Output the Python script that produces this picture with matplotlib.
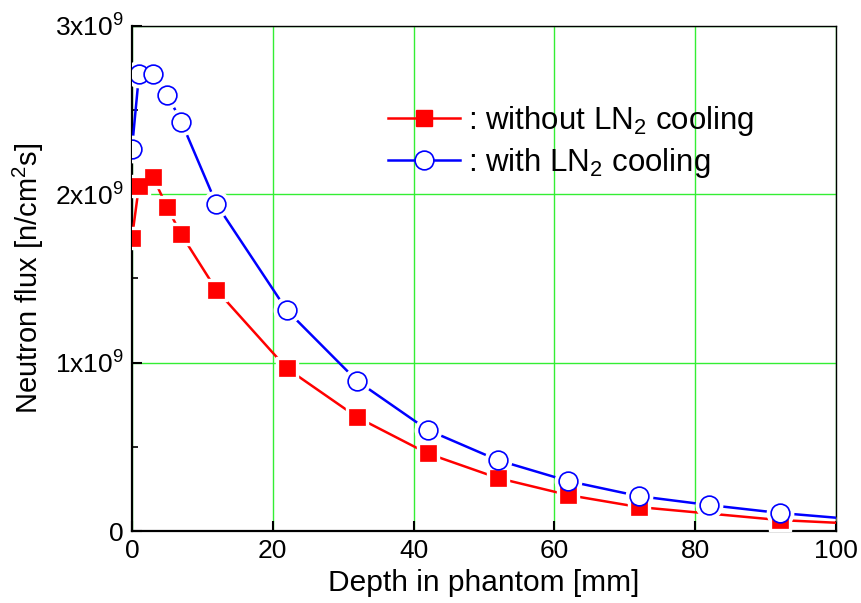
import matplotlib
matplotlib.use("Agg")
import matplotlib.pyplot as plt
from matplotlib.lines import Line2D
from matplotlib.ticker import FixedLocator, MultipleLocator

plt.rcParams['font.family'] = ['Liberation Sans', 'DejaVu Sans']
plt.rcParams['mathtext.fontset'] = 'custom'
plt.rcParams['mathtext.rm'] = 'Liberation Sans'
plt.rcParams['mathtext.it'] = 'Liberation Sans'

# depth [mm]
depth_without = [0, 1, 3, 5, 7, 12, 22, 32, 42, 52, 62, 72, 92, 102]
flux_without = [1.74e9, 2.05e9, 2.10e9, 1.92e9, 1.76e9, 1.43e9, 0.965e9, 0.675e9,
                0.46e9, 0.314e9, 0.213e9, 0.142e9, 0.065e9, 0.045e9]
depth_with = [0, 1, 3, 5, 7, 12, 22, 32, 42, 52, 62, 72, 82, 92, 102]
flux_with = [2.27e9, 2.71e9, 2.71e9, 2.59e9, 2.43e9, 1.94e9, 1.31e9, 0.89e9,
             0.60e9, 0.42e9, 0.296e9, 0.207e9, 0.154e9, 0.107e9, 0.072e9]

yticks = [0, 1e9, 2e9, 3e9]
ytick_labels = ['0', r'1x10$^{9}$', r'2x10$^{9}$', r'3x10$^{9}$']
xticks = [0, 20, 40, 60, 80, 100]

red = '#ff0000'
blue = '#0000ff'
green = '#33ee33'

fig = plt.figure(figsize=(8.62, 6.03), dpi=100)
ax = fig.add_axes([0.1531, 0.1194, 0.8167, 0.8383])

ax.set_xlim(0, 100)
ax.set_ylim(0, 3e9)

# lines
ax.plot(depth_without, flux_without, color=red, lw=1.8, zorder=3)
ax.plot(depth_with, flux_with, color=blue, lw=1.8, zorder=3)
# white halos to make gaps around markers
ax.plot(depth_without, flux_without, ls='none', marker='s', ms=16, mfc='white',
        mec='white', zorder=4)
ax.plot(depth_with, flux_with, ls='none', marker='o', ms=19, mfc='white',
        mec='white', zorder=4)
# markers
ax.plot(depth_without, flux_without, ls='none', marker='s', ms=12, mfc=red,
        mec=red, mew=0.5, zorder=5)
ax.plot(depth_with, flux_with, ls='none', marker='o', ms=13.5, mfc='white',
        mec=blue, mew=1.2, zorder=6)

ax.xaxis.set_major_locator(FixedLocator(xticks))
ax.yaxis.set_major_locator(FixedLocator(yticks))
ax.set_yticklabels(ytick_labels)
ax.yaxis.set_minor_locator(MultipleLocator(0.5e9))

ax.grid(True, which='major', color=green, lw=1.0, zorder=1)
ax.set_axisbelow(True)

ax.tick_params(axis='both', which='major', direction='in', length=7, width=1.5,
               labelsize=19, top=False, right=False, pad=6)
ax.tick_params(axis='y', which='minor', direction='in', length=4, width=1.2,
               right=False)
ax.tick_params(axis='x', which='minor', bottom=False)

for s in ['left', 'bottom']:
    ax.spines[s].set_linewidth(1.6)
for s in ['top', 'right']:
    ax.spines[s].set_linewidth(1.0)

ax.set_xlabel('Depth in phantom [mm]', fontsize=21.5, labelpad=4)
ax.set_ylabel(r'Neutron flux [n/cm$^{2}$s]', fontsize=21, labelpad=6)

h1 = Line2D([], [], color=red, lw=1.8, marker='s', ms=12, mfc=red, mec=red)
h2 = Line2D([], [], color=blue, lw=1.8, marker='o', ms=13.5, mfc='white', mec=blue, mew=1.2)
leg = ax.legend([h1, h2], [r': without LN$_{2}$ cooling', r': with LN$_{2}$ cooling'],
                loc='upper left', bbox_to_anchor=(0.346, 0.87), frameon=False,
                fontsize=22.5, handlelength=2.3, handletextpad=0.25, labelspacing=0.25,
                borderaxespad=0)

fig.savefig('out.png', dpi=100)
